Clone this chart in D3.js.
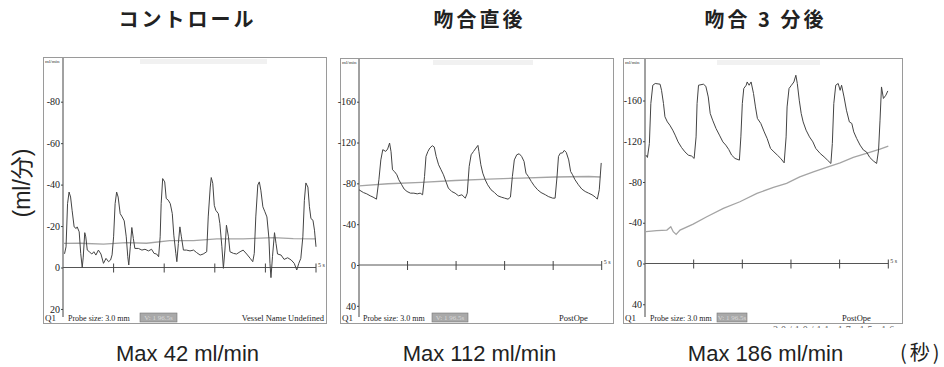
<!DOCTYPE html>
<html>
<head>
<meta charset="utf-8">
<script src="https://cdn.jsdelivr.net/npm/d3@7/dist/d3.min.js"></script>
<style>
  html, body { margin: 0; padding: 0; background: #fff; }
  svg { display: block; }
</style>
</head>
<body>
<svg id="chart" width="944" height="367"></svg>
<script>
// ---- data (t in s, flow in ml/min) ----
const titles = ['コントロール', '吻合直後', '吻合 3 分後'];
const maxLabels = ['Max 42 ml/min', 'Max 112 ml/min', 'Max 186 ml/min'];
const unitLabel = '(ml/分)';
const timeUnitLabel = '(秒)';
const yTickValues = [
  [80, 60, 40, 20, 0, -20],
  [160, 120, 80, 40, 0, -40],
  [160, 120, 80, 40, 0, -40],
];
const timeTicks = [0, 1, 2, 3, 4, 5];
const statusRight = ['Vessel Name Undefined', 'PostOpe', 'PostOpe'];

const controlWave = [
  [0.03, 6.6], [0.06, 10], [0.09, 30.8], [0.12, 36.4], [0.15, 34], [0.18, 27.6], [0.22, 19.6],
  [0.26, 18.8], [0.28, 19.6], [0.32, 17.2], [0.35, 6.8], [0.38, 0], [0.40, 5], [0.43, 16.8],
  [0.45, 14.8], [0.48, 8.4], [0.52, 7.6], [0.57, 6.5], [0.61, 7.6], [0.65, 6], [0.70, 8.4],
  [0.75, 6.5], [0.80, 2], [0.85, 4.4], [0.90, 2.8], [0.94, 3.6], [0.97, 6.1], [1.00, 14.8],
  [1.03, 30.8], [1.06, 36.4], [1.09, 34], [1.13, 26], [1.17, 24.4], [1.21, 22.5], [1.25, 14.8],
  [1.28, 5.2], [1.30, 1.2], [1.33, 10], [1.36, 19.3], [1.39, 14], [1.42, 9.2], [1.49, 9.2],
  [1.56, 8.4], [1.62, 8.8], [1.69, 8], [1.75, 8.8], [1.80, 6.8], [1.85, 6.5], [1.89, 5.2],
  [1.92, 14.8], [1.94, 30.8], [1.97, 42.9], [2.01, 41.3], [2.04, 33.3], [2.08, 32.5], [2.12, 30.8],
  [2.16, 26], [2.19, 15.6], [2.23, 6.8], [2.25, 2.8], [2.28, 11.6], [2.31, 19.6], [2.34, 14.8],
  [2.38, 8.4], [2.44, 8.4], [2.51, 8], [2.58, 8.4], [2.64, 7.2], [2.71, 6], [2.77, 6.5],
  [2.84, 7.6], [2.87, 24.4], [2.91, 38.8], [2.93, 43.4], [2.96, 40.6], [2.99, 30], [3.02, 27.6],
  [3.07, 26], [3.10, 21.2], [3.14, 10], [3.17, -0.4], [3.20, 8.4], [3.23, 20.4], [3.27, 14.8],
  [3.30, 7.6], [3.37, 6.8], [3.43, 6.5], [3.50, 7.6], [3.56, 8.4], [3.63, 6.5], [3.70, 4.4],
  [3.75, 2.8], [3.78, 6.8], [3.81, 24.4], [3.85, 39.8], [3.88, 41.3], [3.91, 37.3], [3.95, 29.3],
  [3.99, 26.9], [4.03, 24.4], [4.07, 14], [4.09, 2], [4.11, -4.9], [4.14, 5.2], [4.18, 16.8],
  [4.21, 11.6], [4.24, 6.5], [4.31, 6], [4.37, 3.9], [4.44, 4.7], [4.51, 3.6], [4.57, 2],
  [4.62, -1.2], [4.66, 2], [4.70, 4.4], [4.74, 14.8], [4.77, 32.4], [4.80, 40.8], [4.84, 38.8],
  [4.87, 29.3], [4.90, 23.6], [4.94, 22.8], [4.97, 18], [5.00, 10],
];
const controlMean = [
  [0.01, 11.6], [0.34, 11.7], [0.80, 11.3], [1.26, 12], [1.65, 11.7], [2.11, 13], [2.58, 13],
  [3.04, 13.8], [3.56, 13.8], [4.16, 14.4], [4.55, 13.9], [5.00, 13.8],
];

const directWave = [
  [0.00, 73.7], [0.09, 71], [0.16, 69.7], [0.23, 67.8], [0.29, 66.5], [0.36, 64.5], [0.41, 83.5],
  [0.45, 103], [0.49, 113], [0.55, 111.3], [0.59, 113.6], [0.63, 119.5], [0.66, 111], [0.69, 93.3],
  [0.73, 91.6], [0.78, 88.4], [0.82, 83.5], [0.88, 78.6], [0.93, 74.4], [0.99, 72], [1.06, 70.4],
  [1.13, 70.4], [1.20, 69.7], [1.26, 70.4], [1.31, 68.8], [1.35, 86.7], [1.38, 106.4], [1.42, 111.3],
  [1.46, 114.6], [1.51, 116.9], [1.55, 115.6], [1.59, 106.4], [1.64, 98.2], [1.69, 93.3], [1.74, 88.4],
  [1.79, 81.8], [1.84, 75.4], [1.91, 72], [1.98, 70.4], [2.05, 67.8], [2.12, 68.8], [2.19, 65.5],
  [2.23, 70.4], [2.27, 96.6], [2.31, 108], [2.36, 111.3], [2.41, 114.6], [2.45, 117.2], [2.47, 111.3],
  [2.51, 98.2], [2.55, 90], [2.60, 83.5], [2.65, 78.6], [2.72, 73.7], [2.79, 71], [2.86, 67.8],
  [2.93, 66.5], [3.00, 65.5], [3.07, 64.5], [3.12, 66.5], [3.16, 86.7], [3.20, 103], [3.25, 108],
  [3.30, 109], [3.35, 106.4], [3.40, 101.5], [3.44, 90], [3.49, 86.7], [3.55, 81.8], [3.61, 77.6],
  [3.68, 73.7], [3.75, 71], [3.84, 68.8], [3.90, 67.1], [3.99, 65.5], [4.04, 65.5], [4.08, 86.7],
  [4.11, 106.4], [4.15, 109.7], [4.19, 109.7], [4.23, 112.3], [4.27, 110.3], [4.32, 103], [4.36, 91.6],
  [4.40, 88.4], [4.45, 83.5], [4.52, 78.6], [4.59, 74.4], [4.66, 72], [4.73, 70.4], [4.80, 68.8],
  [4.87, 66.5], [4.91, 64.5], [4.95, 73.7], [4.99, 100],
];
const directMean = [
  [0.00, 77.6], [0.60, 79.6], [1.29, 80.9], [1.98, 82.8], [2.67, 84.2], [3.35, 85.2], [4.04, 86.2],
  [4.73, 86.7], [4.97, 86.2],
];

const after3Wave = [
  [0.02, 106.4], [0.05, 104.1], [0.09, 117.8], [0.12, 157], [0.16, 175], [0.21, 176.7], [0.31, 176],
  [0.34, 170], [0.38, 157], [0.41, 144], [0.46, 139], [0.51, 135.8], [0.57, 130.9], [0.62, 126],
  [0.68, 119.4], [0.75, 113.9], [0.82, 109.6], [0.89, 106.4], [0.96, 105.4], [1.01, 103.1], [1.05, 124.3],
  [1.07, 157], [1.10, 175], [1.20, 176], [1.25, 174], [1.30, 163.5], [1.34, 147.3], [1.39, 140.7],
  [1.46, 132.5], [1.53, 126], [1.60, 119.4], [1.66, 116.2], [1.72, 112], [1.78, 106.4], [1.85, 103.1],
  [1.94, 101.5], [1.97, 124.3], [2.00, 157], [2.03, 171.8], [2.08, 175], [2.10, 178.2], [2.14, 175],
  [2.18, 178.2], [2.23, 166.9], [2.27, 153.7], [2.31, 142.4], [2.38, 137.5], [2.45, 129.2], [2.51, 122.7],
  [2.58, 112.9], [2.65, 109.6], [2.72, 106.4], [2.79, 103.1], [2.86, 98.8], [2.90, 124.3], [2.92, 153.7],
  [2.96, 171.8], [3.01, 175], [3.06, 178.2], [3.10, 184.8], [3.13, 176.7], [3.17, 160.3], [3.21, 147.3],
  [3.25, 139], [3.31, 130.9], [3.38, 124.3], [3.45, 119.4], [3.51, 112.9], [3.60, 108], [3.68, 104.7],
  [3.75, 101.5], [3.82, 98.2], [3.85, 117.8], [3.88, 157], [3.92, 175], [3.97, 176.7], [4.01, 170],
  [4.04, 175], [4.09, 163.5], [4.14, 150.5], [4.20, 139], [4.25, 137.5], [4.29, 129.2], [4.35, 122.7],
  [4.42, 116.2], [4.49, 111.3], [4.55, 109.6], [4.62, 104.1], [4.69, 100.8], [4.76, 98.2], [4.80, 111.3],
  [4.83, 140.7], [4.86, 173.3], [4.90, 162], [4.95, 165.2], [4.99, 169.4],
];
const after3Mean = [
  [0.02, 31.2], [0.24, 32.2], [0.45, 32.8], [0.53, 36.1], [0.58, 31.2], [0.64, 28.6], [0.72, 32.8],
  [0.99, 38.7], [1.27, 45.9], [1.61, 54.1], [1.95, 60.6], [2.30, 68.8], [2.64, 74.7], [2.91, 78.6],
  [3.18, 85.1], [3.46, 90], [3.73, 94.3], [4.01, 98.8], [4.28, 104.1], [4.55, 108], [4.83, 112.3],
  [5.00, 115.2],
];

const waves = [controlWave, directWave, after3Wave];
const means = [controlMean, directMean, after3Mean];

// ---- layout of each screenshot panel ----
const panels = [
  { left: 43, top: 57, right: 326, bottom: 323, axisX: 63, plotRight: 316, zeroY: 267.5, refV: 80, refY: 101.7, probeDx: 25, boxDx: 97, boxW: 37, rightText: { x: 324, anchor: 'end' }, header: [140, 267] },
  { left: 340, top: 58, right: 613, bottom: 323, axisX: 359, plotRight: 601.7, zeroY: 265, refV: 160, refY: 101.7, probeDx: 23, boxDx: 92, boxW: 36, rightText: { x: 559, anchor: 'start' }, header: [433, 533] },
  { left: 623, top: 58, right: 902, bottom: 323, axisX: 645, plotRight: 888.3, zeroY: 263.5, refV: 160, refY: 100.5, probeDx: 27, boxDx: 94, boxW: 30, rightText: { x: 842, anchor: 'start' }, header: [717, 820] },
];

const serif = '"Liberation Serif", "Times New Roman", serif';
const sans = '"Liberation Sans", Arial, "Noto Sans CJK JP", sans-serif';
const jp = '"Noto Sans CJK JP", sans-serif';

const svg = d3.select('#chart');

const tickLabel = (v) => (v === 0 ? '0' : v > 0 ? '-' + v : String(-v));

panels.forEach((p, i) => {
  const g = svg.append('g');
  const x = d3.scaleLinear().domain([0, 5]).range([p.axisX, p.plotRight]);
  const y = d3.scaleLinear().domain([0, p.refV]).range([p.zeroY, p.refY]);

  // screenshot frame
  g.append('rect')
    .attr('x', p.left + 0.5).attr('y', p.top + 0.5)
    .attr('width', p.right - p.left).attr('height', p.bottom - p.top)
    .attr('fill', '#fff').attr('stroke', '#9a9a9a').attr('stroke-width', 1);

  // faint header strip of the monitor window
  g.append('rect')
    .attr('x', p.header[0]).attr('y', p.top + 2)
    .attr('width', p.header[1] - p.header[0]).attr('height', 5)
    .attr('fill', '#f1f1f1');

  // vertical axis
  const yAxis = d3.axisLeft(y)
    .tickValues(yTickValues[i])
    .tickFormat(tickLabel)
    .tickSize(2)
    .tickPadding(1);
  const ya = g.append('g').attr('transform', `translate(${p.axisX},0)`).call(yAxis);
  ya.select('.domain').remove();
  ya.selectAll('line').attr('stroke', '#444');
  ya.selectAll('text')
    .attr('font-family', serif).attr('font-size', 10).attr('fill', '#222');

  g.append('line')
    .attr('x1', p.axisX).attr('x2', p.axisX)
    .attr('y1', p.top + 1).attr('y2', p.bottom - 6)
    .attr('stroke', '#444').attr('stroke-width', 1);

  g.append('text')
    .attr('x', p.left + 2).attr('y', p.top + 6)
    .attr('font-family', serif).attr('font-size', 5).attr('fill', '#333')
    .text('ml/min');

  // time axis along zero flow
  g.append('line')
    .attr('x1', p.axisX).attr('x2', p.plotRight)
    .attr('y1', y(0)).attr('y2', y(0))
    .attr('stroke', '#555').attr('stroke-width', 1);
  g.selectAll('.tick-t').data(timeTicks.slice(1)).join('line')
    .attr('class', 'tick-t')
    .attr('x1', (d) => x(d)).attr('x2', (d) => x(d))
    .attr('y1', y(0) - 4).attr('y2', y(0) + 5)
    .attr('stroke', '#444').attr('stroke-width', 1);
  g.append('text')
    .attr('x', x(5) + 2).attr('y', y(0) - 1)
    .attr('font-family', serif).attr('font-size', 6).attr('fill', '#333')
    .text('5 s');

  // traces
  const line = d3.line().x((d) => x(d[0])).y((d) => y(d[1]));
  g.append('path')
    .datum(means[i])
    .attr('d', line)
    .attr('fill', 'none').attr('stroke', '#a4a4a4').attr('stroke-width', 1.3);
  g.append('path')
    .datum(waves[i])
    .attr('d', line)
    .attr('fill', 'none').attr('stroke', '#444').attr('stroke-width', 1)
    .attr('stroke-linejoin', 'round');

  // status row
  const sy = p.bottom - 2;
  g.append('text')
    .attr('x', p.left + 2).attr('y', sy)
    .attr('font-family', serif).attr('font-size', 9).attr('fill', '#222')
    .text('Q1');
  g.append('text')
    .attr('x', p.left + p.probeDx).attr('y', sy)
    .attr('font-family', serif).attr('font-size', 8).attr('fill', '#222')
    .text('Probe size: 3.0 mm');
  g.append('rect')
    .attr('x', p.left + p.boxDx).attr('y', sy - 8)
    .attr('width', p.boxW).attr('height', 9)
    .attr('fill', '#a9a9a9').attr('stroke', '#777').attr('stroke-width', 0.6);
  g.append('text')
    .attr('x', p.left + p.boxDx + p.boxW / 2).attr('y', sy - 1)
    .attr('text-anchor', 'middle')
    .attr('font-family', serif).attr('font-size', 7).attr('fill', '#d8d8d8')
    .text('V: 1 96.5s');
  g.append('text')
    .attr('x', p.rightText.x).attr('y', sy)
    .attr('text-anchor', p.rightText.anchor)
    .attr('font-family', serif).attr('font-size', 8.5).attr('fill', '#222')
    .text(statusRight[i]);

  // captions
  const cx = (p.left + p.right) / 2 + 3;
  svg.append('text')
    .attr('x', cx).attr('y', 27)
    .attr('text-anchor', 'middle')
    .attr('font-family', jp).attr('font-weight', 'bold').attr('font-size', 20)
    .attr('letter-spacing', 3).attr('fill', '#222')
    .text(titles[i]);
  svg.append('text')
    .attr('x', cx).attr('y', 361)
    .attr('text-anchor', 'middle')
    .attr('font-family', sans).attr('font-size', 22).attr('fill', '#222')
    .text(maxLabels[i]);
});

// partially cut timestamp below the last frame
svg.append('clipPath').attr('id', 'cut')
  .append('rect').attr('x', 760).attr('y', 323).attr('width', 170).attr('height', 5);
svg.append('text')
  .attr('x', 773).attr('y', 333)
  .attr('clip-path', 'url(#cut)')
  .attr('font-family', serif).attr('font-size', 10).attr('fill', '#666')
  .attr('letter-spacing', 3)
  .text('20/10/11 17:15:16');

// axis unit labels
svg.append('text')
  .attr('transform', 'translate(30,183) rotate(-90)')
  .attr('text-anchor', 'middle')
  .attr('font-family', sans).attr('font-size', 23).attr('fill', '#222')
  .text(unitLabel);
svg.append('text')
  .attr('x', 900).attr('y', 360)
  .attr('font-family', jp).attr('font-size', 20).attr('letter-spacing', 3).attr('fill', '#222')
  .text(timeUnitLabel);
</script>
</body>
</html>
